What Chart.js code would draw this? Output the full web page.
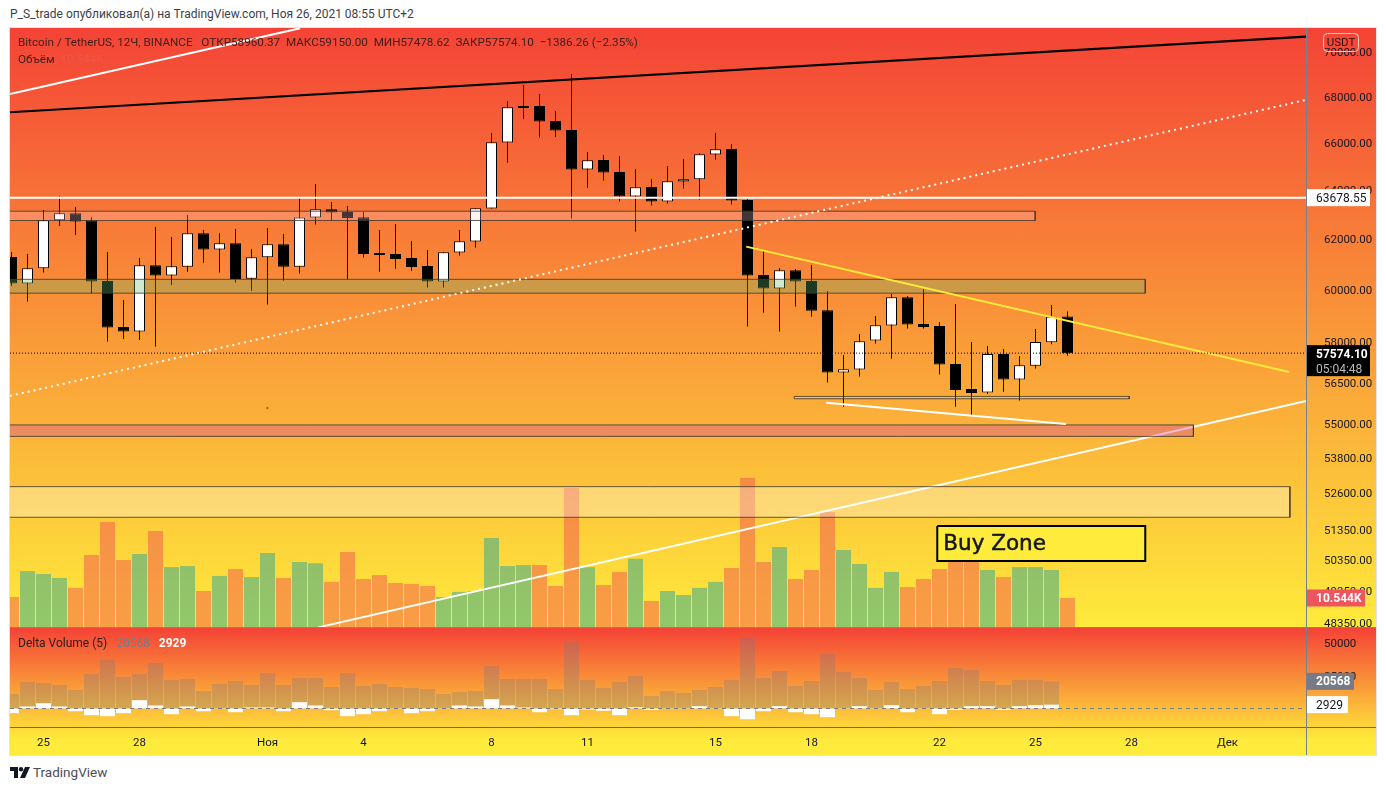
<!DOCTYPE html>
<html lang="ru">
<head>
<meta charset="utf-8">
<title>BTCUSDT 12H</title>
<script src="https://cdn.jsdelivr.net/npm/chart.js@4/dist/chart.umd.min.js"></script>
<style>
  html, body { margin: 0; padding: 0; background: #fff; width: 1386px; height: 790px; overflow: hidden; font-family: Roboto, sans-serif; }
  .abs { position: absolute; white-space: pre; }
  #headline { left: 10px; top: 7px; font-size: 12px; color: #3c3f4a; }
  #frame { left: 9px; top: 27px; width: 1366px; height: 727px; border: 1px solid #e0e3eb; }
  #pricePane { left: 10px; top: 28px; width: 1366px; height: 600px; background: linear-gradient(#f44336, #ffeb3b); }
  #deltaPane { left: 10px; top: 628px; width: 1366px; height: 127px; background: linear-gradient(#f44336 0, #ffeb3b 112px); }
  canvas { display: block; }
  #axisLine { left: 1306px; top: 28px; width: 1px; height: 727px; background: #6f8296; }
  #timeLine { left: 10px; top: 727px; width: 1366px; height: 1px; background: #6b6a5c; }
  #paneLine { left: 10px; top: 627px; width: 1366px; height: 1px; background: #8b8a55; }
  .legend { font-size: 11.7px; color: #3d1f1b; }
  #logo { left: 10px; top: 766px; }
  #brand { left: 33px; top: 764px; font-size: 13.5px; color: #4a4d57; }
</style>
</head>
<body>
<div class="abs" id="headline">P_S_trade опубликовал(а) на TradingView.com, Ноя 26, 2021 08:55 UTC+2</div>
<div class="abs" id="frame"></div>
<div class="abs" id="pricePane"><canvas id="priceChart" width="1366" height="600"></canvas></div>
<div class="abs" id="deltaPane"><canvas id="deltaChart" width="1366" height="127"></canvas></div>
<div class="abs" id="paneLine"></div>
<div class="abs" id="timeLine"></div>
<div class="abs" id="axisLine"></div>
<div class="abs legend" style="left:18px;top:35px">Bitcoin / TetherUS, 12Ч, BINANCE   ОТКР58960.37  МАКС59150.00  МИН57478.62  ЗАКР57574.10  −1386.26 (−2.35%)</div>
<div class="abs legend" style="left:18px;top:52px">Объём  <span style="color:#f0574a">10.544K</span></div>
<div class="abs legend" style="left:18px;top:636px;color:#2a1a18;font-size:12px">Delta Volume (5)   <span style="color:#787b86">20568</span>   <b style="color:#fff">2929</b></div>
<svg class="abs" id="logo" width="20" height="13" viewBox="0 0 20 13">
  <path d="M0 1h8v11H4V5H0z" fill="#131722"/><circle cx="11" cy="3.2" r="2.2" fill="#131722"/><path d="M15 1h5l-5 11h-5z" fill="#131722"/>
</svg>
<div class="abs" id="brand">TradingView</div>

<script>
// ---- candles, 12h bars
const opens = [61279,60228,60832,62755,63040,62739,60333,58562,58384,60951,60541,60895,62228,61570,61826,60423,61267,61786,60895,62861,63204,63093,62877,61439,61399,61240,60923,60306,61451,61890,63228,65992,67493,67580,66927,66537,64847,65256,64750,63722,64124,63516,64344,64444,65480,65723,63586,60568,60033,60753,60333,59199,56853,56963,58044,58611,59699,58676,58600,57174,56255,56120,57546,56595,57108,57981,58960.37];
const highs = [61478,61399,63175,63722,63298,62877,61478,59595,61240,62483,62079,62971,62361,62240,62401,61598,62442,62200,63656,64249,63504,63340,63093,62361,62604,61918,61558,61466,62361,63257,66408,67799,68506,68108,67361,68996,65595,65468,65426,64876,64457,65003,65298,65553,66408,65936,63615,61518,60832,60805,60963,59943,57508,58297,58981,59828,59749,60021,58752,59441,57995,57845,57732,57471,58486,59403,59150];
const lows = [60138,59530,60659,62523,62160,59854,58006,58108,58070,57819,60177,60698,61053,60659,60267,59955,59414,60345,60620,62576,62739,60400,61252,60698,60816,60737,60072,60072,61332,61650,63228,65142,67013,66206,66236,62820,64082,64386,63516,62293,63352,63434,64053,63598,65269,63393,58575,59105,58384,59337,58955,56485,55613,56705,57932,57370,58497,58497,56780,55613,55315,56073,56156,55830,57000,57907,57478.62];
const closes = [60228,60832,62755,63040,62698,60306,58535,58384,60951,60541,60910,62228,61570,61826,60411,61267,61786,60895,62861,63204,63065,62848,61399,61359,61200,60884,60306,61466,61906,63245,66009,67523,67580,66896,66507,64847,65243,64721,63722,64111,63516,64361,64444,65497,65710,63557,60541,60033,60753,60306,59183,56853,56978,58021,58626,59699,58649,58562,57148,56218,56109,57546,56595,57124,57992,58945,57574.10];
// volume in thousands
const volumes = [10.9,20.0,19.0,17.6,14.1,25.7,37.3,23.9,26.0,34.1,21.4,21.8,13.0,18.3,20.7,17.9,26.4,17.6,23.2,22.8,16.2,26.7,17.2,18.6,15.8,15.5,14.8,10.9,12.7,13.0,31.6,21.8,22.1,22.1,14.8,49.2,21.4,15.1,19.7,24.3,9.5,13.0,11.6,14.1,16.2,21.1,52.7,23.2,28.5,17.2,20.4,40.8,27.4,22.5,14.1,19.7,14.4,17.2,20.7,28.8,27.8,20.4,17.9,21.4,21.4,20.4,10.544];

// ---- delta volume pane
const deltaTotals = [10980,20080,19320,17800,14020,26140,37120,23860,26140,34470,21590,22350,13260,18560,20830,17800,26900,17800,23110,23110,16290,26900,17050,18560,16290,15530,14770,10980,12500,13260,32200,22350,22350,22350,14770,50380,21590,15530,20080,24620,9470,13260,11740,14020,16290,21590,53410,23110,28410,17050,20830,41290,27650,23110,14020,20080,14770,17050,20830,30680,29170,20830,17800,21590,21590,20568];
const deltaNets = [-3560,1520,4020,1520,-2050,-5080,-5830,-3560,6290,2270,-4320,1520,-2050,230,-2800,760,760,-2050,4770,2270,-1290,-5830,-4320,-2050,230,-3560,-2050,230,2270,1520,7050,2270,760,-2800,-530,-5080,-760,-1740,-5080,980,-980,-230,-230,1740,230,-5830,-8110,-2050,1740,-2800,-4320,-6590,-230,1740,-230,2500,-2800,-230,-4320,-980,1740,1740,-980,1740,2500,2929];

// ---- axes
const priceTicks = [70000,68000,66000,64000,62000,60000,58000,56500,55000,53800,52600,51350,50350,49350,48350];
const deltaTicks = [50000,25000];
const timeTickBars = [2,8,16,22,30,36,44,50,58,64,70,76];
const timeTickLabels = ['25','28','Ноя','4','8','11','15','18','22','25','28','Дек'];

// ---- drawings on the price pane (x in bars, y in price)
const lastPrice = 57574.10;
const whiteLevel = 63678.55;
const blackLineX = [-0.09,80.91],  blackLineY = [67305,70684];
const upperLineX = [-0.09,18.04],  upperLineY = [68108,71070];
const dottedLineX = [-0.09,80.91], dottedLineY = [56000,67843];
const risingLineX = [19.17,80.91], risingLineY = [48200,55820];
const yellowLineX = [45.92,79.86], yellowLineY = [61690,56878];
const lowerLineX = [50.92,65.9],   lowerLineY = [55757,54993];
const stopDotX = [16], stopDotY = [55566];
const zoneAX = [-1,63.98], zoneAY = [63122,62743];
const zoneBX = [-1,70.86], zoneBY = [60396,59858];
const zoneCX = [48.92,69.86], zoneCY = [55982,55898];
const zoneDX = [-1,73.87], zoneDY = [54958,54550];
const zoneEX = [-1,79.9],  zoneEY = [52802,51764];
const buyBoxX = [57.86,70.86], buyBoxY = [51473,50321];

const xMin = -0.09375, xMax = xMin + 81;
const barIdx = closes.map((_, i) => i);

Chart.defaults.font.family = 'Roboto';
Chart.defaults.font.size = 11.5;
Chart.defaults.color = '#131722';

// the empty first line plus a tight line height nudges axis labels down to sit on their level
const axisFont = { size: 11.5, lineHeight: '3px' };

function lineDs(xs, ys, color, width, dash, order) {
  return {
    type: 'line', yAxisID: 'y', order,
    data: xs.map((x, i) => ({ x, y: ys[i] })),
    borderColor: color, borderWidth: width, borderDash: dash,
    pointRadius: 0, tension: 0, fill: false
  };
}

function zoneDs(xs, ys, fillColor, order, edge, edgeWidth) {
  const pts = [[xs[0],ys[0]],[xs[1],ys[0]],[xs[1],ys[1]],[xs[0],ys[1]],[xs[0],ys[0]]];
  return {
    type: 'line', yAxisID: 'y', order,
    data: pts.map(p => ({ x: p[0], y: p[1] })),
    borderColor: edge || 'rgba(60,55,45,0.8)', borderWidth: edgeWidth || 1,
    backgroundColor: fillColor, fill: 'shape', pointRadius: 0, tension: 0
  };
}

function axisTag(chart, value, scaleId, fill, width, lines) {
  const { ctx, chartArea } = chart;
  const y = chart.scales[scaleId].getPixelForValue(value);
  const h = lines.length > 1 ? 31 : 17;
  const top = lines.length > 1 ? y - 8 : y - h / 2;
  ctx.save();
  ctx.fillStyle = fill;
  ctx.fillRect(chartArea.right, top, width, h);
  ctx.textBaseline = 'middle';
  ctx.textAlign = 'left';
  lines.forEach((l, i) => {
    ctx.font = (l.bold ? 'bold ' : '') + '12px Roboto';
    ctx.fillStyle = l.color;
    ctx.fillText(l.text, chartArea.right + 10, top + 9.5 + i * 15);
  });
  ctx.restore();
}

const priceTags = {
  id: 'priceTags',
  afterDraw(chart) {
    const { ctx, chartArea } = chart;
    axisTag(chart, whiteLevel, 'y', '#fff', 64, [{ text: '63678.55', color: '#131722' }]);
    axisTag(chart, lastPrice, 'y', '#000', 64, [
      { text: '57574.10', color: '#fff', bold: true },
      { text: '05:04:48', color: '#b8b8b8' }
    ]);
    axisTag(chart, volumes[volumes.length - 1], 'yVol', '#f2545b', 59, [{ text: '10.544K', color: '#fff', bold: true }]);

    // currency button
    ctx.save();
    ctx.strokeStyle = '#f7c9bd';
    ctx.lineWidth = 1;
    ctx.beginPath();
    ctx.roundRect(chartArea.right + 17.5, 5.5, 35, 18, 4);
    ctx.stroke();
    ctx.fillStyle = '#2a1512';
    ctx.textAlign = 'center';
    ctx.textBaseline = 'middle';
    ctx.font = '11.5px Roboto';
    ctx.fillText('USDT', chartArea.right + 35, 15);

    // Buy Zone caption
    const xs = chart.scales.x, ys = chart.scales.y;
    const capX = xs.getPixelForValue(buyBoxX[0]) + 6;
    const capY = (ys.getPixelForValue(buyBoxY[0]) + ys.getPixelForValue(buyBoxY[1])) / 2 + 1;
    ctx.fillStyle = '#131722';
    ctx.strokeStyle = '#131722';
    ctx.lineWidth = 0.5;
    ctx.textAlign = 'left';
    ctx.font = '21.5px "DejaVu Sans"';
    ctx.fillText('Buy Zone', capX, capY);
    ctx.strokeText('Buy Zone', capX, capY);
    ctx.restore();
  }
};

const deltaTags = {
  id: 'deltaTags',
  afterDraw(chart) {
    axisTag(chart, deltaTotals[deltaTotals.length - 1], 'y', '#787b86', 48, [{ text: '20568', color: '#fff', bold: true }]);
    axisTag(chart, deltaNets[deltaNets.length - 1], 'y', '#fff', 42, [{ text: '2929', color: '#131722' }]);
  }
};

new Chart(document.getElementById('priceChart'), {
  type: 'bar',
  plugins: [priceTags],
  data: {
    datasets: [
      {
        yAxisID: 'yVol', order: 90, grouped: false, barThickness: 15, inflateAmount: 0, borderWidth: 0,
        data: barIdx.map(i => ({ x: i, y: volumes[i] })),
        backgroundColor: barIdx.map(i => closes[i] >= opens[i] ? 'rgba(38,166,154,0.5)' : 'rgba(239,83,80,0.5)')
      },
      {
        yAxisID: 'y', order: 80, grouped: false, barThickness: 1, inflateAmount: 0, borderWidth: 0,
        data: barIdx.map(i => ({ x: i, y: [lows[i], highs[i]] })),
        backgroundColor: '#000'
      },
      {
        yAxisID: 'y', order: 70, grouped: false, barThickness: 11, inflateAmount: 0,
        borderWidth: 1, borderColor: '#000', borderSkipped: false,
        data: barIdx.map(i => ({ x: i, y: [opens[i], closes[i]] })),
        backgroundColor: barIdx.map(i => closes[i] >= opens[i] ? '#fff' : '#000')
      },
      lineDs(risingLineX, risingLineY, '#fff', 2, [], 60),
      zoneDs(zoneAX, zoneAY, 'rgba(255,205,215,0.26)', 50),
      zoneDs(zoneBX, zoneBY, 'rgba(102,187,106,0.31)', 50),
      zoneDs(zoneCX, zoneCY, 'rgba(255,255,255,0.2)', 50),
      zoneDs(zoneDX, zoneDY, 'rgba(205,62,168,0.35)', 50),
      zoneDs(zoneEX, zoneEY, 'rgba(255,255,255,0.3)', 50),
      lineDs(blackLineX, blackLineY, '#000', 2, [], 40),
      lineDs(upperLineX, upperLineY, '#fff', 2, [], 40),
      lineDs(dottedLineX, dottedLineY, '#fff', 2, [2, 4], 40),
      lineDs(yellowLineX, yellowLineY, '#ffeb3b', 2, [], 40),
      lineDs(lowerLineX, lowerLineY, '#fff', 2, [], 40),
      lineDs([xMin, xMax], [whiteLevel, whiteLevel], '#fff', 2, [], 40),
      lineDs([xMin, xMax], [lastPrice, lastPrice], '#000', 1, [1, 2], 30),
      { ...lineDs(stopDotX, stopDotY, '#a33', 0, [], 30), pointRadius: 1, pointBackgroundColor: '#9c3a20' },
      zoneDs(buyBoxX, buyBoxY, '#ffeb3b', 20, '#000', 2)
    ]
  },
  options: {
    responsive: false, animation: false, events: [],
    layout: { padding: 0, autoPadding: false },
    plugins: { legend: { display: false }, tooltip: { enabled: false } },
    scales: {
      x: { type: 'linear', min: xMin, max: xMax, offset: false, display: false, grid: { display: false } },
      yVol: { type: 'linear', min: 0, max: 210.9, display: false, position: 'left', grid: { display: false } },
      y: {
        type: 'logarithmic', position: 'right', min: 48180, max: 71080, bounds: 'data',
        grid: { display: false }, border: { display: false },
        afterFit: s => { s.width = 70; s.paddingTop = 0; s.paddingBottom = 0; },
        afterBuildTicks: s => { s.ticks = priceTicks.map(value => ({ value })); },
        ticks: { padding: 10, autoSkip: false, font: axisFont, callback: v => ['', v.toFixed(2)] }
      }
    }
  }
});

new Chart(document.getElementById('deltaChart'), {
  type: 'bar',
  plugins: [deltaTags],
  data: {
    datasets: [
      {
        order: 20, grouped: false, barThickness: 15, inflateAmount: 0, borderWidth: 0,
        data: deltaTotals.map((v, i) => ({ x: i, y: v })),
        backgroundColor: 'rgba(120,123,134,0.3)'
      },
      {
        order: 10, grouped: false, barThickness: 15, inflateAmount: 0, borderWidth: 0,
        data: deltaNets.map((v, i) => ({ x: i, y: v })),
        backgroundColor: '#fff'
      },
      {
        type: 'line', order: 5,
        data: [{ x: xMin, y: 0 }, { x: xMax, y: 0 }],
        borderColor: '#787b86', borderWidth: 1, borderDash: [4, 4], pointRadius: 0
      }
    ]
  },
  options: {
    responsive: false, animation: false, events: [],
    layout: { padding: 0, autoPadding: false },
    plugins: { legend: { display: false }, tooltip: { enabled: false } },
    scales: {
      x: {
        type: 'linear', min: xMin, max: xMax, offset: false,
        grid: { display: false }, border: { display: false },
        afterFit: s => { s.height = 27; s.paddingLeft = 0; s.paddingRight = 0; },
        afterBuildTicks: s => { s.ticks = timeTickBars.map(value => ({ value })); },
        ticks: { padding: 0, autoSkip: false, maxRotation: 0, callback: (v, i) => timeTickLabels[i] }
      },
      y: {
        type: 'linear', position: 'right', min: -14773, max: 60987, bounds: 'data',
        grid: { display: false }, border: { display: false },
        afterFit: s => { s.width = 70; s.paddingTop = 0; s.paddingBottom = 0; },
        afterBuildTicks: s => { s.ticks = deltaTicks.map(value => ({ value })); },
        ticks: { padding: 10, autoSkip: false, font: axisFont, callback: v => ['', String(v)] }
      }
    }
  }
});
</script>
</body>
</html>
